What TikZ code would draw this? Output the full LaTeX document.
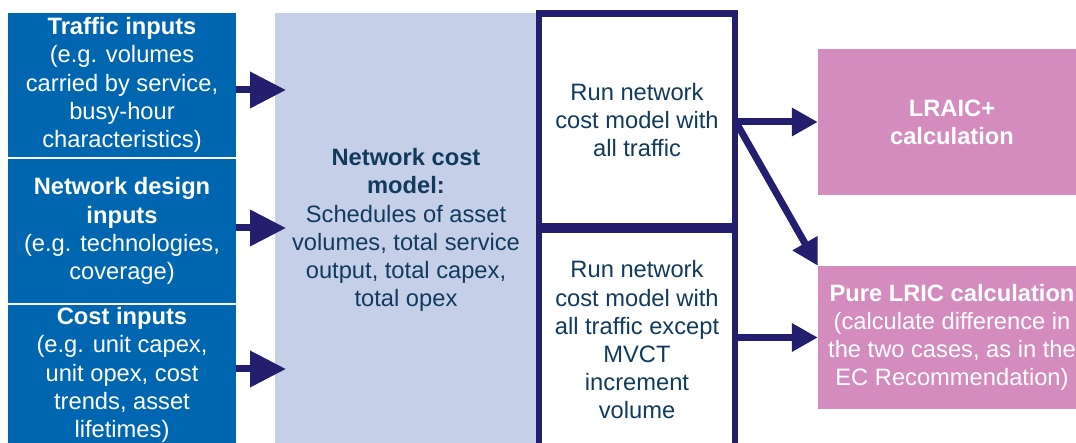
\documentclass[tikz,border=0pt]{standalone}
\usepackage{fontspec}
\setmainfont{Liberation Sans}
\usetikzlibrary{arrows.meta}
\definecolor{inblue}{RGB}{0,102,176}
\definecolor{lightbg}{RGB}{197,208,232}
\definecolor{navy}{RGB}{35,31,110}
\definecolor{pinkbox}{RGB}{212,139,190}
\definecolor{darktext}{RGB}{17,58,94}
\tikzset{
  txt/.style={font=\fontsize{23.7}{28.2}\selectfont, align=center, inner sep=0pt},
  inbox/.style={txt, fill=inblue, text=white, minimum width=228pt},
  runbox/.style={txt, draw=navy, line width=6.5pt, text=darktext, minimum width=196pt, fill=white},
  outbox/.style={txt, fill=pinkbox, text=white},
  bigarrow/.style={navy, line width=7pt, -{Triangle[length=36pt,width=35pt]}},
  smallarrow/.style={navy, line width=7pt, -{Triangle[length=26pt,width=27pt]}}
}
\begin{document}
\begin{tikzpicture}[x=1pt,y=-1pt]
\useasboundingbox (0,0) rectangle (1076,443);
\clip (0,0) rectangle (1076,443);

\node[inbox, minimum height=144pt] (traffic) at (122,85)
  {\textbf{Traffic inputs}\\(e.g. volumes\\carried by service,\\busy-hour\\characteristics)};
\node[inbox, minimum height=144pt] (design) at (122,231)
  {\textbf{Network design}\\\textbf{inputs}\\(e.g. technologies,\\coverage)};
\node[inbox, minimum height=140pt] (cost) at (122,375)
  {\textbf{Cost inputs}\\(e.g. unit capex,\\unit opex, cost\\trends, asset\\lifetimes)};

\node[txt, fill=lightbg, text=darktext, minimum width=262pt, minimum height=434pt] (ncm) at (406,230) {};
\node[txt, text=darktext] (ncmtext) at (406,230)
  {\textbf{Network cost}\\\textbf{model:}\\Schedules of asset\\volumes, total service\\output, total capex,\\total opex};

\node[runbox, minimum height=212.5pt] (run1) at (637,119.75)
  {Run network\\cost model with\\all traffic};
\node[runbox, minimum height=220pt] (run2) at (637,340)
  {Run network\\cost model with\\all traffic except\\MVCT\\increment\\volume};

\node[outbox, minimum width=268pt, minimum height=146pt] (lraic) at (952,122)
  {\textbf{LRAIC+}\\\textbf{calculation}};
\node[outbox, minimum width=268pt, minimum height=143pt] (pure) at (952,337.5)
  {\textbf{Pure LRIC calculation}\\(calculate difference in\\the two cases, as in the\\EC Recommendation)};

\coordinate (a1) at (286,90);
\coordinate (a2) at (286,228);
\coordinate (a3) at (286,369);
\draw[bigarrow] (traffic.east |- a1) -- (a1);
\draw[bigarrow] (design.east |- a2) -- (a2);
\draw[bigarrow] (cost.east |- a3) -- (a3);

\coordinate (d0) at (737,124);
\draw[smallarrow] (run1.east |- lraic.west) -- (lraic.west);
\draw[smallarrow] (d0) -- (pure.north west);
\draw[smallarrow] (run2.east |- pure.west) -- (pure.west);
\end{tikzpicture}
\end{document}
